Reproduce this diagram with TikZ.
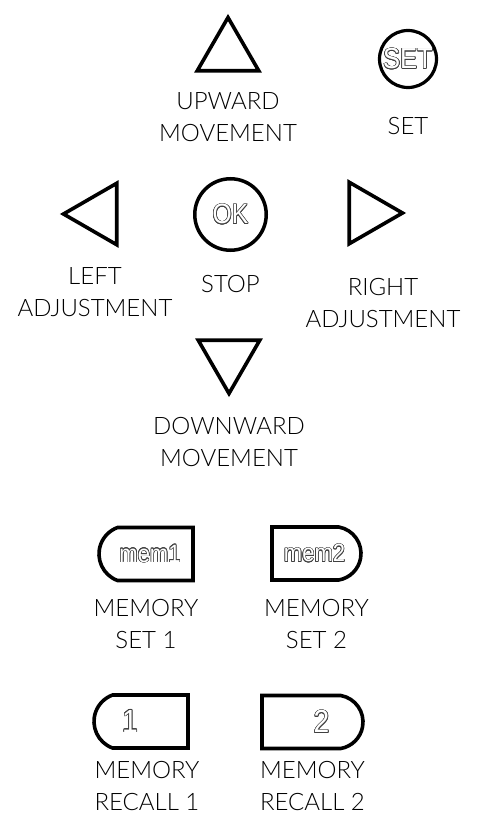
\documentclass[tikz,border=0pt]{standalone}
\usepackage{fontspec}
\setmainfont{Lato Light}
\newfontfamily\keyfont{Liberation Sans}[FakeStretch=0.88]
\usepackage[copies]{contour}
\contourlength{0.65pt}
\usetikzlibrary{
    positioning,
    shapes.geometric,
    shapes.misc
}
\newcommand{\keytext}[1]{\contour{black!75}{\textcolor{white}{#1}}}

\begin{document}
\begin{tikzpicture}[x=1pt, y=-1pt,
        arrowkey/.style={draw, line width=3.6pt, regular polygon, regular polygon sides=3, minimum size=71pt, inner sep=0pt},
        roundkey/.style={draw, circle, inner sep=0pt},
        memkey/.style={draw, line width=3.6pt, rounded rectangle, minimum height=53pt, inner sep=0pt},
        caption/.style={font=\fontsize{24}{32}\selectfont, align=center, inner sep=0pt},
        keylabel/.style={font=\keyfont\fontsize{#1}{#1}\selectfont, inner sep=0pt}
      ]
      \useasboundingbox (0,0) rectangle (495,821);

      % direction keys
      \node[arrowkey] (upkey) at (228,53) {};
      \node[arrowkey, shape border rotate=90] (leftkey) at (99,214) {};
      \node[arrowkey, shape border rotate=270] (rightkey) at (367,213) {};
      \node[arrowkey, shape border rotate=180] (downkey) at (229,358) {};
      \node[roundkey, line width=3.5pt, minimum size=71.5pt] (okkey) at (230.5,214.5) {};
      \node[roundkey, line width=3.2pt, minimum size=57pt] (setkey) at (408,59) {};
      \node[keylabel=28] at (okkey) {\keytext{OK}};
      \node[keylabel=29] at (setkey) {\keytext{SET}};

      \node[caption, below=20pt of upkey] (uplbl) {UPWARD\\MOVEMENT};
      \node[caption, below=28pt of setkey] (setlbl) {SET};
      \node[caption] (leftlbl) at (95,292) {LEFT\\ADJUSTMENT};
      \node[caption, below=23pt of okkey] (oklbl) {STOP};
      \node[caption] (rightlbl) at (383,303) {RIGHT\\ADJUSTMENT};
      \node[caption, below=20pt of downkey] (downlbl) {DOWNWARD\\MOVEMENT};

      % memory keys
      \node[memkey, rounded rectangle right arc=none, rounded rectangle arc length=140, minimum width=94pt] (mem1key) at (146,554) {};
      \node[memkey, rounded rectangle left arc=none, rounded rectangle arc length=160, minimum width=89pt] (mem2key) at (316.5,553.5) {};
      \node[memkey, rounded rectangle right arc=none, rounded rectangle arc length=140, minimum width=94pt] (rec1key) at (141,721.5) {};
      \node[memkey, rounded rectangle left arc=none, rounded rectangle arc length=160, minimum width=101pt] (rec2key) at (312.5,722) {};
      \node[keylabel=25] at ([xshift=4pt]mem1key) {\keytext{mem1}};
      \node[keylabel=25] at ([xshift=-2pt]mem2key) {\keytext{mem2}};
      \node[keylabel=32] at ([xshift=-11pt]rec1key) {\keytext{1}};
      \node[keylabel=32] at ([xshift=9pt]rec2key) {\keytext{2}};

      \node[caption, below=17pt of mem1key] (mem1lbl) {MEMORY\\SET 1};
      \node[caption, below=17pt of mem2key] (mem2lbl) {MEMORY\\SET 2};
      \node[caption, below=11pt of rec1key, xshift=6pt] (rec1lbl) {MEMORY\\RECALL 1};
      \node[caption, below=11pt of rec2key] (rec2lbl) {MEMORY\\RECALL 2};
    \end{tikzpicture}
\end{document}
